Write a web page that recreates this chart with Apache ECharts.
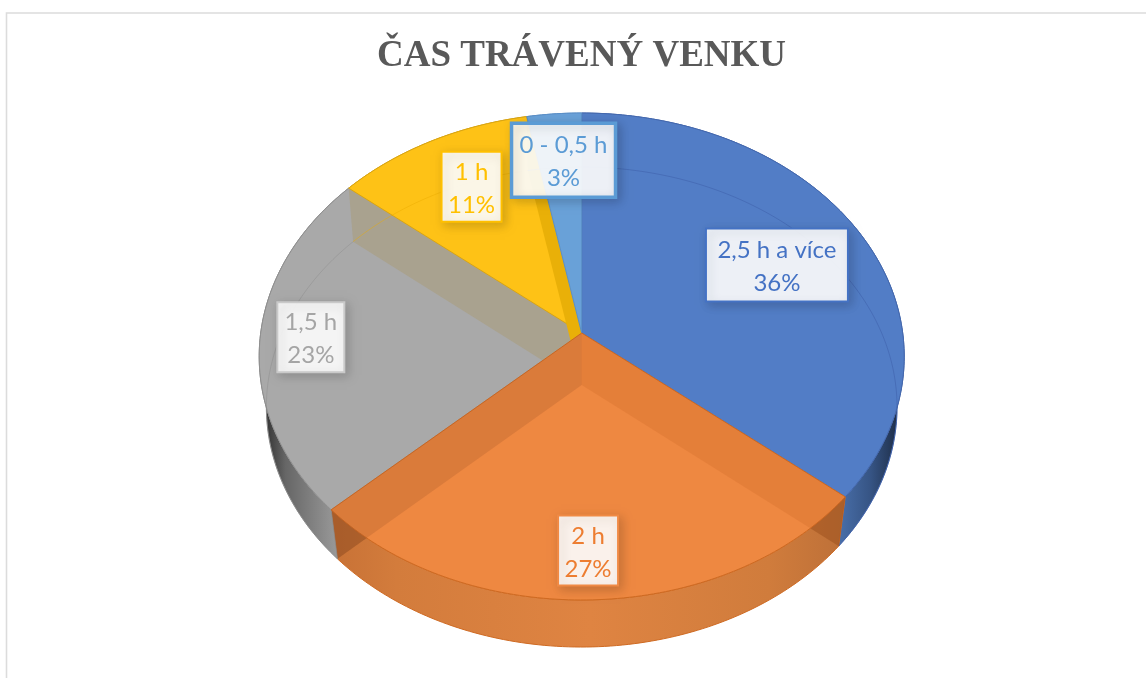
<!DOCTYPE html>
<html>
<head>
<meta charset="utf-8">
<style>html,body{margin:0;padding:0;background:#fff}#c{width:1146px;height:678px}</style>
<script src="https://cdn.jsdelivr.net/npm/echarts@6/dist/echarts.min.js"></script>
</head>
<body>
<div id="c"></div>
<script>
// data
const categories = ['2,5 h a více', '2 h', '1,5 h', '1 h', '0 - 0,5 h'];
const shares = [36, 27, 23, 11, 3];
const titleText = 'ČAS TRÁVENÝ VENKU';

// styles
const faceColors = ['#527dc6', '#ee8841', '#a9a9a9', '#fec216', '#69a1d8'];
const faceStrokes = ['#4468ae', '#cf6a22', '#8f8f8f', '#d9a514', '#5b90c8'];
const textColors = ['#4472c4', '#ed7d31', '#a5a5a5', '#ffc000', '#5b9bd5'];
const boxBorders = ['#4472c4', '#f08a45', '#c9c9c9', '#ffc000', '#5b9bd5'];
const boxBorderWidths = [2, 2, 2, 2, 3.5];
const innerArcColors = ['rgba(55,85,160,0.4)', null, 'rgba(125,125,125,0.3)', 'rgba(235,170,0,0.45)', 'rgba(70,120,190,0.5)'];
const wallOverlays = [[], ['rgba(196,94,30,0.22)', 'rgba(160,84,40,0.25)'], [null, 'rgb(169,162,143)'], [null, 'rgb(233,176,8)'], []];
const cornerShades = [[], ['rgba(110,55,20,0.3)', 'rgba(110,55,20,0.3)'], [], [], []];
const boxSizes = [[142, 73], [60, 70], [67, 70], [60, 70], [104, 74]];
const labelOffsets = [[-14, 6], [-2, 17.5], [-29.5, -1.5], [3, -2.5], [2.5, -8.5]];
const textShiftY = 2;

// perspective geometry of the top and bottom discs
const topDisc = { cx: 581.7, cy: 333, a: 321, b: 241.2, k: 0.0965 };
const bottomDisc = { cx: 581.7, cy: 385, a: 314, b: 238, k: 0.0917 };
const total = shares.reduce((s, v) => s + v, 0);
const edges = [0];
shares.forEach((v, i) => edges.push(edges[i] + v / total * 360));

function project(d, deg) {
  const t = deg * Math.PI / 180, u = Math.sin(t), v = -Math.cos(t), w = 1 - d.k * v;
  return [d.cx + d.a * u / w, d.cy + d.b * v / w];
}
function arc(d, from, to) {
  const n = Math.max(2, Math.ceil(Math.abs(to - from)));
  const pts = [];
  for (let j = 0; j <= n; j++) pts.push(project(d, from + (to - from) * j / n));
  return pts;
}
const grad = (x0, x1, stops) => new echarts.graphic.LinearGradient(x0, 0, x1, 0,
  stops.map(s => ({ offset: s[0], color: s[1] })), true);

const wallFills = [
  grad(835, 900, [[0, '#4b72ae'], [0.55, '#365484'], [1, '#1c2b44']]),
  grad(335, 845, [[0, '#c87236'], [0.12, '#d37c3c'], [0.5, '#df8442'], [0.85, '#d07c3c'], [1, '#bd7038']]),
  grad(262, 340, [[0, '#2b2b2b'], [0.3, '#666666'], [1, '#9c9c9c']]),
  '#e0a800', '#5b90c8'
];

function wallQuad(deg, fill) {
  return { type: 'polygon', shape: { points: [
    [topDisc.cx, topDisc.cy], [bottomDisc.cx, bottomDisc.cy], project(bottomDisc, deg), project(topDisc, deg)
  ] }, style: { fill } };
}
function renderWall(params) {
  const i = params.dataIndex;
  const pts = arc(topDisc, edges[i], edges[i + 1]).concat(arc(bottomDisc, edges[i + 1], edges[i]));
  const children = [{ type: 'polygon', shape: { points: pts }, style: { fill: wallFills[i], stroke: faceStrokes[i], lineWidth: 1 } }];
  cornerShades[i].forEach((c, w) => { if (c) children.push(wallQuad(edges[i + w], c)); });
  return { type: 'group', children };
}
function renderFace(params) {
  const i = params.dataIndex;
  const children = [{
    type: 'polygon',
    shape: { points: [[topDisc.cx, topDisc.cy]].concat(arc(topDisc, edges[i], edges[i + 1])) },
    style: { fill: faceColors[i], stroke: faceStrokes[i], lineWidth: 1 }
  }];
  wallOverlays[i].forEach((c, w) => { if (c) children.push(wallQuad(edges[i + w], c)); });
  if (innerArcColors[i]) children.push({
    type: 'polyline', shape: { points: arc(bottomDisc, edges[i], edges[i + 1]) },
    style: { fill: 'none', stroke: innerArcColors[i], lineWidth: 1 }
  });
  return { type: 'group', children };
}
const nearestOnTop = 1;
function renderLabel(params) {
  const i = params.dataIndex;
  const mid = (edges[i] + edges[i + 1]) / 2, p = project(topDisc, mid);
  const x = topDisc.cx + (p[0] - topDisc.cx) * 0.75 + labelOffsets[i][0];
  const y = topDisc.cy + (p[1] - topDisc.cy) * 0.75 + labelOffsets[i][1];
  const w = boxSizes[i][0], h = boxSizes[i][1];
  return { type: 'group', children: [
    { type: 'rect', shape: { x: x - w / 2, y: y - h / 2, width: w, height: h },
      style: { fill: 'rgba(255,255,255,0.9)', stroke: boxBorders[i], lineWidth: boxBorderWidths[i],
        shadowBlur: 10, shadowColor: 'rgba(0,0,0,0.18)', shadowOffsetX: 3, shadowOffsetY: 3 } },
    { type: 'text', style: { x, y: y + textShiftY, text: categories[i] + '\n' + shares[i] + '%', align: 'center', verticalAlign: 'middle',
        fill: textColors[i], font: '24px Lato', lineHeight: 33 } }
  ] };
}
const seriesData = categories.map((c, i) => ({ name: c, value: shares[i] }));
const layer = (name, z, renderItem) => ({
  type: 'custom', name, coordinateSystem: 'none', data: seriesData, z, silent: true, animation: false, renderItem
});

const chart = echarts.init(document.getElementById('c'), null, { renderer: 'canvas' });
chart.setOption({
  backgroundColor: '#ffffff',
  animation: false,
  title: { text: titleText, left: 576.5, top: 33, textAlign: 'center',
    textStyle: { fontFamily: 'Liberation Serif', fontWeight: 'bold', fontSize: 37, color: '#595959' } },
  graphic: [
    { type: 'polyline', silent: true, shape: { points: [[6.5, 678], [6.5, 13], [1146, 13]] },
      style: { fill: 'none', stroke: '#dcdcdc', lineWidth: 1.6 } }
  ],
  series: [
    layer('walls', 1, renderWall),
    layer('back faces', 2, (p) => p.dataIndex === nearestOnTop ? null : renderFace(p)),
    layer('front face', 3, (p) => p.dataIndex === nearestOnTop ? renderFace(p) : null),
    layer('labels', 4, renderLabel)
  ]
});
</script>
</body>
</html>
